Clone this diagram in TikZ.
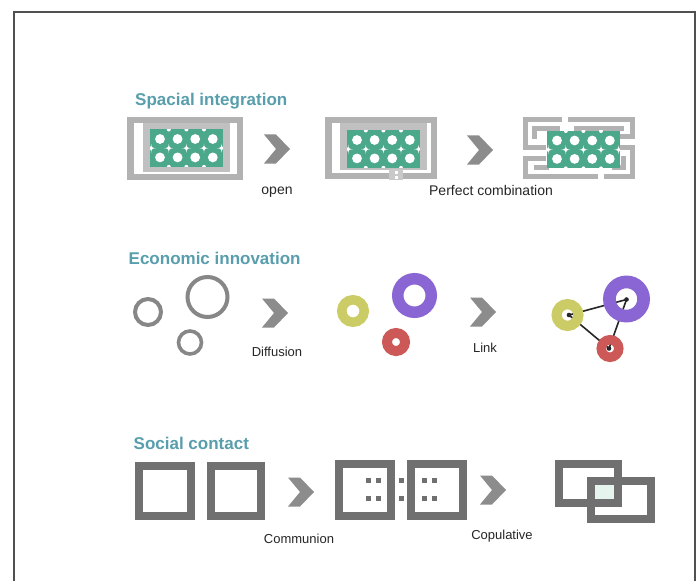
\documentclass[tikz,border=0pt]{standalone}
\usepackage{fontspec}
\setmainfont{Liberation Sans}
\definecolor{teal1}{RGB}{88,158,172}
\definecolor{band}{RGB}{178,178,178}
\definecolor{innerg}{RGB}{192,192,192}
\definecolor{grn}{RGB}{76,168,138}
\definecolor{chevc}{RGB}{140,140,140}
\definecolor{ringg}{RGB}{135,135,135}
\definecolor{ylw}{RGB}{204,204,102}
\definecolor{prp}{RGB}{138,102,212}
\definecolor{rd}{RGB}{204,88,88}
\definecolor{sq}{RGB}{112,112,112}
\definecolor{mint}{RGB}{230,244,238}
\definecolor{framec}{RGB}{80,80,80}
\tikzset{
  ttl/.style={font=\fontsize{17}{20}\selectfont\bfseries, text=teal1, anchor=base west, inner sep=0pt},
  lblA/.style={font=\fontsize{14}{16}\selectfont, text=black!85, anchor=base, inner sep=0pt},
  lblB/.style={font=\fontsize{13}{15}\selectfont, text=black!85, anchor=base, inner sep=0pt},
  chev/.pic={\fill[chevc] (-13,-14.5) -- (-1,-14.5) -- (13,0) -- (-1,14.5) -- (-13,14.5) -- (-1,0) -- cycle;},
  wstar/.pic={\fill[white] (-4.6,0) .. controls (-1.2,0) and (0,-1.2) .. (0,-4.6) .. controls (0,-1.2) and (1.2,0) .. (4.6,0) .. controls (1.2,0) and (0,1.2) .. (0,4.6) .. controls (0,1.2) and (-1.2,0) .. (-4.6,0) -- cycle;},
  greenpat/.pic={
    \begin{scope}
      \clip (-10,-9.5) rectangle (62.8,27.9);
      \fill[grn] (-10,-9.5) rectangle (62.8,27.9);
      \foreach \i in {0,1,2,3} {\foreach \j in {0,1} {\fill[white] (17.6*\i,18.4*\j) circle[radius=4.9];}}
      \foreach \i in {-1,0,1,2,3} {\pic at (8.8+17.6*\i,9.2) {wstar};}
      \foreach \i in {0,1,2} {\fill[white] (8.8+17.6*\i,-9.5) circle[radius=2];
                              \fill[white] (8.8+17.6*\i,27.9) circle[radius=2];}
    \end{scope}
  },
  outband/.style={draw=band, line width=6.5pt},
  mz/.style={draw=band, line width=5pt},
  gring/.style={circle, draw=ringg, line width=4pt, inner sep=0pt, outer sep=0pt},
  cring/.style={circle, draw=#1, inner sep=0pt, outer sep=0pt},
  lnk/.style={draw=black!85, line width=1.6pt},
  sqband/.style={draw=sq, line width=8pt},
  framel/.style={draw=framec, line width=1.3pt},
}
\begin{document}
\begin{tikzpicture}[x=1pt,y=-1pt]
\useasboundingbox (0,0) rectangle (700,580);
\fill[white] (0,0) rectangle (700,580);
\draw[framel] (14,582) -- (14,12) -- (695,12) -- (695,582);

% ---------- Row 1: Spacial integration ----------
\node[ttl] (t1) at (135,106) {Spacial integration};
% shape 1
\draw[outband] (130.25,120.25) rectangle (239.75,176.75);
\fill[innerg] (143,123.5) rectangle (230,172);
\pic at (160,139) {greenpat};
\pic at (277,149) {chev};
\node[lblA] (l1) at (277,194) {open};
% shape 2
\draw[outband] (389,175.75) -- (328.25,175.75) -- (328.25,120.25) -- (433.75,120.25) -- (433.75,175.75) -- (403,175.75);
\fill[innerg] (340,123.5) rectangle (427,170);
\fill[innerg!85] (389,169) rectangle (403,179.5);
\fill[white] (394.5,171) rectangle +(3,3);
\fill[white] (394.5,175.8) rectangle +(3,3);
\pic at (357,140) {greenpat};
\pic at (480,150) {chev};
\node[lblA] (l2) at (491,195.5) {Perfect combination};
% shape 3 (maze)
\draw[mz] (562,119.5) -- (525.5,119.5) -- (525.5,147.5) -- (546,147.5);
\draw[mz] (560,128.5) -- (534,128.5) -- (534,139);
\draw[mz] (546,158.5) -- (525.5,158.5) -- (525.5,176.5) -- (598,176.5);
\draw[mz] (534,167.5) -- (549,167.5);
\draw[mz] (568,119.5) -- (632.5,119.5) -- (632.5,137) -- (617,137);
\draw[mz] (574,128.5) -- (624,128.5);
\draw[mz] (617,147.5) -- (632.5,147.5) -- (632.5,176.5) -- (604,176.5);
\draw[mz] (623,156) -- (623,167.5) -- (612,167.5);
\pic at (557,140.5) {greenpat};

% ---------- Row 2: Economic innovation ----------
\node[ttl] (t2) at (128.5,264) {Economic innovation};
\node[gring, minimum size=26pt] (g1) at (148,312) {};
\node[gring, minimum size=40pt] (g2) at (207.5,297) {};
\node[gring, minimum size=23pt, line width=3.6pt] (g3) at (190,342.5) {};
\pic at (275,313) {chev};
\node[lblB] (l3) at (277,356.5) {Diffusion};
\node[cring=ylw, line width=9.5pt, minimum size=22.5pt] (e1) at (353,311) {};
\node[cring=prp, line width=11.5pt, minimum size=33.5pt] (e2) at (414.5,295.5) {};
\node[cring=rd, line width=10pt, minimum size=18pt] (e3) at (396,342) {};
\pic at (483,312) {chev};
\node[lblB] (l4) at (485,352.5) {Link};
% network
\coordinate (nY) at (569,315);
\coordinate (nP) at (626.5,299.5);
\coordinate (nR) at (609,348.5);
\draw[lnk] (nY) -- (nP);
\draw[lnk] (nY) -- (nR);
\draw[lnk] (nR) -- (nP);
\node[cring=ylw, line width=10.2pt, minimum size=21.8pt] (rY) at (567.5,315) {};
\node[cring=prp, line width=12.7pt, minimum size=34.2pt] (rP) at (626.5,299) {};
\node[cring=rd, line width=9.5pt, minimum size=17.5pt] (rR) at (610,348.5) {};
\fill[black!85] (nY) circle[radius=2.3];
\fill[black!85] (nP) circle[radius=2.3];
\fill[black!85] (nR) circle[radius=2.3];

% ---------- Row 3: Social contact ----------
\node[ttl] (t3) at (133.5,449) {Social contact};
\draw[sqband] (139,466) rectangle (191,516);
\draw[sqband] (211,466) rectangle (261,516);
\pic at (301,492) {chev};
\node[lblB] (l5) at (299,543.3) {Communion};
\draw[sqband] (339,464) rectangle (391,516);
\draw[sqband] (411,464) rectangle (463,516);
\foreach \x in {368,378,401,424,434} {\foreach \y in {480,498} {\fill[sq] (\x-2.5,\y-2.5) rectangle +(5,5);}}
\pic at (493,490) {chev};
\node[lblB] (l6) at (502,539.3) {Copulative};
\fill[mint] (595,485) rectangle (614,499);
\draw[sqband] (559,464) rectangle (618,503);
\draw[sqband] (591,481) rectangle (651,519);
\end{tikzpicture}
\end{document}
